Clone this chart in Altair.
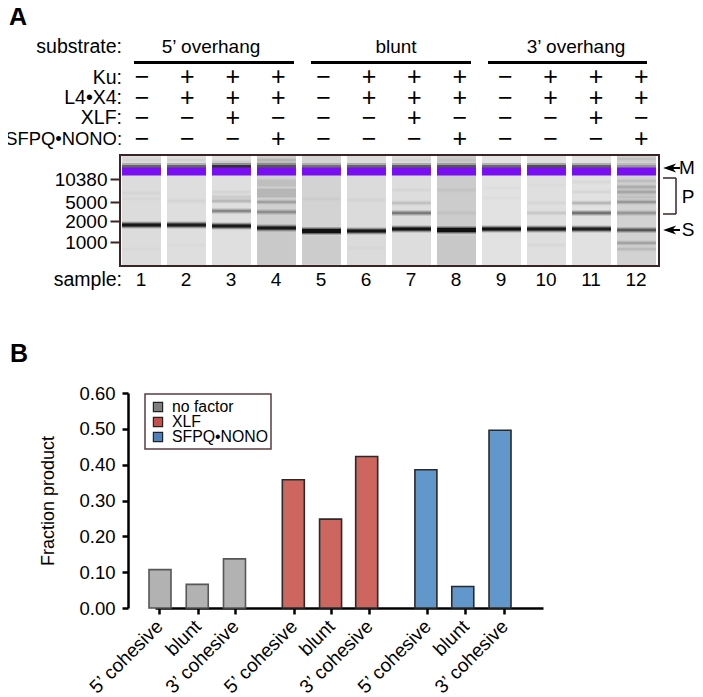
import json
import altair as alt
import pandas as pd

W, H = 687, 689
FONT = "Liberation Sans"
DARK = "#3b2326"

# ---- panel A: conditions
lanes = list(range(1, 13))
rows = ["Ku:", "L4•X4:", "XLF:", "SFPQ•NONO:"]
ku = "-+++-+++-+++"
l4x4 = "-+++-+++-+++"
xlf = "--+---+---+-"
sfpq = "---+---+---+"
substrates = ["5’ overhang", "blunt", "3’ overhang"]
sizes = ["10380", "5000", "2000", "1000"]
size_pos = [179, 202, 221, 242]

# ---- panel A: gel (lane background, and bands as migration, thickness, darkness)
lane_gray = ["#dcdcdc", "#dedede", "#dfdfdf", "#d0d0d0", "#d3d3d3", "#dbdbdb",
             "#dddddd", "#cccccc", "#e2e2e2", "#dfdfdf", "#e1e1e1", "#d2d2d2"]
marker_shadow = [.6, .6, .95, .65, .5, .6, .65, .65, .6, .75, .65, .3]
lane_bands = [
    [(160, 2, .04), (193, 2, .03), (199, 1, .03), (225, 4, .95), (249, 2, .02)],
    [(160, 2, .06), (201, 3, .03), (225, 4, .9), (245, 2, .02)],
    [(162, 2, .1), (192, 2, .05), (197, 3, .08), (201, 2, .22), (211, 3, .42), (226, 4, .92)],
    [(160, 2, .16), (164, 2, .16), (183, 7, .08), (193, 9, .12), (202, 2, .3), (212, 3, .33),
     (228, 4, .92), (248, 34, .03)],
    [(199, 2, .03), (231, 5, 1.0), (250, 28, .03)],
    [(200, 2, .03), (231, 4, .95), (248, 2, .02)],
    [(160, 2, .05), (190, 2, .03), (203, 2, .16), (213, 3, .48), (229, 4, .97)],
    [(160, 2, .05), (190, 3, .03), (213, 3, .04), (230, 5, 1.0), (250, 28, .02)],
    [(188, 2, .02), (198, 2, .02), (229, 4, 1.0)],
    [(185, 2, .02), (203, 2, .04), (213, 2, .12), (229, 4, .92), (245, 2, .03)],
    [(182, 2, .04), (192, 2, .05), (203, 2, .24), (213, 3, .55), (229, 4, .88)],
    [(159, 2, .1), (181, 2, .12), (187, 3, .17), (192, 3, .2), (197, 3, .08), (202, 2, .36),
     (213, 3, .28), (230, 3, .7), (243, 2, .28), (249, 2, .14)],
]

# ---- panel B: bars
categories = ["5’ cohesive", "blunt", "3’ cohesive"] * 3
factors = ["no factor"] * 3 + ["XLF"] * 3 + ["SFPQ•NONO"] * 3
fractions = [0.107, 0.066, 0.137, 0.358, 0.248, 0.423, 0.386, 0.06, 0.496]
bar_slots = [0, 1, 2, 3.58, 4.58, 5.55, 7.14, 8.13, 9.13]
tick_slots = [-0.02, 1.01, 2.02, 3.59, 4.6, 5.62, 7.18, 8.2, 9.25]
legend_names = ["no factor", "XLF", "SFPQ•NONO"]
bar_fill = ["#b2b2b2", "#cc665f", "#6297cb"]
bar_line = ["#575757", "#2a2a2a", "#2a2a2a"]
legend_fill = ["#7f7f7f", "#c4504c", "#4f80bd"]


def sx():
    return alt.Scale(domain=[8, 8 + W], range=[0, W])


def sy():
    return alt.Scale(domain=[8, 8 + H], range=[0, H])


X = alt.X("x:Q", scale=sx(), axis=None)
X2 = alt.X2("x2:Q")
Y = alt.Y("y:Q", scale=sy(), axis=None)
Y2 = alt.Y2("y2:Q")


def texts(records, size, align="left", weight="normal"):
    return alt.Chart(pd.DataFrame(records)).mark_text(
        font=FONT, fontSize=size, align=align, baseline="middle", fontWeight=weight, color="#000"
    ).encode(x=X, y=Y, text="t:N")


def segs(records, width, color):
    return alt.Chart(pd.DataFrame(records)).mark_rule(strokeWidth=width, color=color).encode(
        x=X, x2=X2, y=Y, y2=Y2)


layers = []

# panel letters and header text
layers.append(texts([{"x": 9, "y": 17, "t": "A"}, {"x": 10, "y": 354, "t": "B"}], 25, weight="bold"))
layers.append(texts(
    [{"x": 122, "y": 47, "t": "substrate:"}, {"x": 122, "y": 280, "t": "sample:"}]
    + [{"x": 122, "y": y, "t": r} for y, r in zip([78, 98, 118], rows[:3])], 19.5, align="right"))
layers.append(texts([{"x": 122, "y": 139, "t": rows[3]}], 18.4, align="right"))
layers.append(texts([{"x": x, "y": 47, "t": s} for x, s in zip([211, 396, 576], substrates)], 19, align="center"))
layers.append(segs([{"x": a, "x2": b, "y": 62.5, "y2": 62.5} for a, b in [(134, 294), (311, 471), (488, 647)]], 3, "#000"))

# + and - signs
sign_rows = []
for r, pattern in enumerate([ku, l4x4, xlf, sfpq]):
    for lane, c in zip(lanes, pattern):
        sign_rows.append({"lane": lane, "row": r, "s": "+" if c == "+" else "−"})
layers.append(alt.Chart(pd.DataFrame(sign_rows)).mark_text(
    font=FONT, fontSize=25, align="center", baseline="middle", color="#000").encode(
    x=alt.X("lane:Q", scale=alt.Scale(domain=[1, 12], range=[134, 633.4]), axis=None),
    y=alt.Y("row:Q", scale=alt.Scale(domain=[0, 3], range=[69, 131]), axis=None),
    text="s:N"))

# gel
gel_rows = []
for i, lane in enumerate(lanes):
    def add(y0, y1, color, op):
        gel_rows.append({"a": lane - 0.433, "b": lane + 0.433, "y0": y0, "y1": y1, "c": color, "o": op})
    add(156, 265, lane_gray[i], 1)
    for (pos, thick, dark) in lane_bands[i]:
        if thick > 5:
            add(pos - thick / 2, pos + thick / 2, "#000", dark)
            continue
        add(pos - thick / 2 - 1.5, pos + thick / 2 + 1.5, "#000", dark * 0.22)
        add(pos - thick / 2 - .5, pos + thick / 2 + .5, "#000", dark * 0.35)
        add(pos - thick / 2 + .5, pos + thick / 2 - .5, "#000", dark * (0.85 if dark > .7 else .5))
    add(163, 168, "#000", marker_shadow[i] * 0.35)
    add(165, 168, "#000", marker_shadow[i] * 0.7)
    add(167.5, 175.5, "#7a0ef2", 1)
lane_x = alt.X("a:Q", scale=alt.Scale(domain=[1, 12], range=[133.5, 628.5]), axis=None)
gel_y = alt.Y("y0:Q", scale=alt.Scale(domain=[155, 266], range=[147, 258]), axis=alt.Axis(
    values=size_pos, orient="left", offset=-112, domain=False, grid=False, title=None,
    tickSize=10, tickWidth=2, tickColor=DARK, labelFont=FONT, labelFontSize=19,
    labelColor="#000", labelPadding=3,
    labelExpr=json.dumps(sizes) + "[indexof(" + json.dumps(size_pos) + ",datum.value)]"))
layers.append(alt.Chart(pd.DataFrame(gel_rows)).mark_rect().encode(
    x=lane_x, x2="b:Q", y=gel_y, y2="y1:Q",
    color=alt.Color("c:N", scale=None), opacity=alt.Opacity("o:Q", scale=None)))
layers.append(alt.Chart(pd.DataFrame([{"x": 120, "x2": 659, "y": 155, "y2": 266}])).mark_rect(
    fill=None, stroke=DARK, strokeWidth=2).encode(x=X, x2=X2, y=Y, y2=Y2))

# sample numbers
layers.append(alt.Chart(pd.DataFrame({"lane": lanes})).mark_text(
    font=FONT, fontSize=19, align="center", baseline="middle", color="#000").encode(
    x=alt.X("lane:Q", scale=alt.Scale(domain=[1, 12], range=[133, 628]), axis=None),
    y=alt.value(272), text="lane:N"))

# M, P, S annotations
layers.append(segs([{"x": 668, "x2": 680, "y": y, "y2": y} for y in (168, 230)], 2, "#000"))
ARROW = "M-1,0 L0.9,-0.65 L0.35,0 L0.9,0.65 Z"
layers.append(alt.Chart(pd.DataFrame([{"x": 670, "y": 168}, {"x": 670, "y": 230}])).mark_point(
    shape=ARROW, size=190, filled=True, color="#000", opacity=1).encode(x=X, y=Y))
layers.append(texts([{"x": 687, "y": 168, "t": "M"}, {"x": 688, "y": 230, "t": "S"}, {"x": 688, "y": 197, "t": "P"}],
                    19, align="center"))
layers.append(segs([{"x": 663, "x2": 676, "y": 178, "y2": 178}, {"x": 663, "x2": 676, "y": 214, "y2": 214},
                    {"x": 676, "x2": 676, "y": 178, "y2": 214}], 1.5, DARK))

# panel B bars with real axes
bars = pd.DataFrame({"slot": bar_slots, "cat": categories, "factor": factors, "fraction": fractions})
slot_scale = alt.Scale(domain=[0, 10.15], range=[147, 535], nice=False, zero=False)
x_axis = alt.Axis(values=tick_slots, orient="bottom", offset=-(H - 600), grid=False, title=None,
                  domainWidth=2.5, domainColor="#000", tickColor="#000", tickWidth=2.5, tickSize=6,
                  labelFont=FONT, labelFontSize=19, labelColor="#000", labelAngle=315,
                  labelAlign="right", labelBaseline="middle", labelOverlap=False, labelPadding=9,
                  labelBound=False, labelFlush=False,
                  labelExpr=json.dumps(categories) + "[indexof(" + json.dumps(tick_slots) + ",datum.value)]")
y_axis = alt.Axis(values=[0, .1, .2, .3, .4, .5, .6], orient="left", offset=-120, grid=False,
                  format=".2f", title="Fraction product", titleFont=FONT, titleFontSize=18,
                  titleFontWeight="normal", titleColor="#000", titlePadding=21,
                  domainWidth=2.5, domainColor="#000", tickColor="#000", tickWidth=2.5, tickSize=6,
                  labelFont=FONT, labelFontSize=18.5, labelColor="#000", labelPadding=7)
layers.append(alt.Chart(bars).mark_bar(size=22, strokeWidth=1.6).encode(
    x=alt.X("slot:Q", scale=slot_scale, axis=x_axis),
    y=alt.Y("fraction:Q", scale=alt.Scale(domain=[0, 0.6], range=[600, 385], nice=False), axis=y_axis),
    fill=alt.Fill("factor:N", scale=alt.Scale(domain=legend_names, range=bar_fill), legend=None),
    stroke=alt.Stroke("factor:N", scale=alt.Scale(domain=legend_names, range=bar_line), legend=None)))

# legend box
layers.append(alt.Chart(pd.DataFrame([{"x": 145, "x2": 271, "y": 394, "y2": 449}])).mark_rect(
    fill="#fff", stroke="#5a3c40", strokeWidth=1.5).encode(x=X, x2=X2, y=Y, y2=Y2))
legend_y = [407, 422, 437]
layers.append(alt.Chart(pd.DataFrame({"x": [158] * 3, "y": legend_y, "f": legend_names})).mark_square(
    size=85, strokeWidth=1.2, stroke="#222", opacity=1).encode(
    x=X, y=Y, fill=alt.Fill("f:N", scale=alt.Scale(domain=legend_names, range=legend_fill), legend=None)))
layers.append(texts([{"x": 172, "y": y, "t": n} for y, n in zip(legend_y, legend_names)], 15.8))

chart = alt.layer(*layers).resolve_scale(
    x="independent", y="independent", fill="independent", stroke="independent"
).properties(width=W, height=H, padding=0, autosize=alt.AutoSizeParams(type="none")).configure_view(stroke=None)
chart.save("out.html", embed_options={"renderer": "svg", "actions": False})
